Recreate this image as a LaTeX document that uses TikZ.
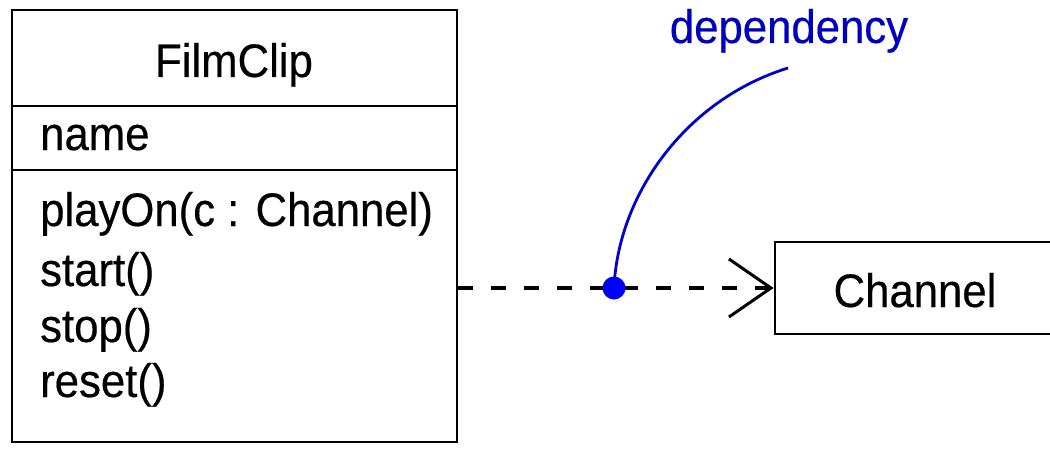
\documentclass[tikz,border=0pt]{standalone}
\usepackage{fontspec}
\setmainfont{Liberation Sans}[FakeStretch=0.93, FakeBold=0.4]
\usetikzlibrary{arrows.meta}
\begin{document}
\begin{tikzpicture}[x=1pt,y=1pt,
  umlbox/.style={draw, line width=2.8pt, inner sep=0pt},
  umlsep/.style={line width=2.8pt},
  umltext/.style={anchor=base west, inner sep=0pt, font=\fontsize{47}{54}\selectfont},
  umltitle/.style={anchor=base, inner sep=0pt, font=\fontsize{47}{54}\selectfont},
  depline/.style={line width=3.2pt, dash pattern=on 15pt off 18pt,
    -{Straight Barb[length=42pt,width=58pt,line width=3pt]}},
  notetext/.style={anchor=base, inner sep=0pt, text=blue!75!black, font=\fontsize{47}{54}\selectfont},
  noteline/.style={line width=2.8pt, draw=blue!80!black},
  notedot/.style={circle, fill=blue, inner sep=0pt, minimum size=23pt}]
\useasboundingbox (0,0) rectangle (1050,-452);
\clip (0,0) rectangle (1050,-452);
\fill[white] (0,0) rectangle (1050,-452);
% FilmClip class
\node[umlbox, minimum width=445pt, minimum height=432pt] (film) at (234.5,-226) {};
\draw[umlsep] (film.west |- 0,-106) -- (film.east |- 0,-106);
\draw[umlsep] (film.west |- 0,-170) -- (film.east |- 0,-170);
\node[umltitle] (title) at (234,-77) {FilmClip};
\node[umltext] (attr) at (40,-150) {name};
\node[umltext] (op1) at (40,-226) {playOn(c : Channel)};
\node[umltext] (op2) at (40,-286) {start()};
\node[umltext] (op3) at (40,-342) {stop()};
\node[umltext] (op4) at (40,-397) {reset()};
% Channel class
\node[umlbox, minimum width=280pt, minimum height=92pt] (chanbox) at (915,-288) {};
\node[umltitle] (chan) at (915,-307) {Channel};
% dependency
\coordinate (depstart) at (film.east |- chanbox.west);
\draw[depline] (depstart) -- (chanbox.west);
% note
\node[notetext] (dep) at (789,-43) {dependency};
\coordinate (depend) at (788,-68);
\coordinate (dotpos) at (614,-288);
\draw[noteline] (dotpos) .. controls (618,-195) and (685,-100) .. (depend);
\node[notedot] (dot) at (dotpos) {};
\end{tikzpicture}
\end{document}
